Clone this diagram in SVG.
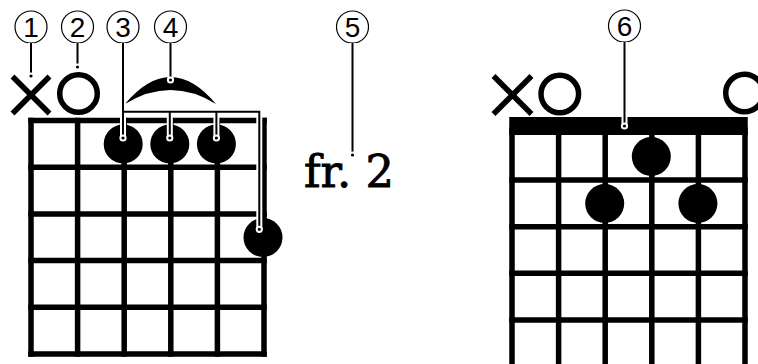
<svg xmlns="http://www.w3.org/2000/svg" width="758" height="364" viewBox="0 0 758 364">
<style>
.grid{stroke:#000;stroke-width:5.5;stroke-linecap:square;fill:none}
.dot{fill:#000}
.mark{stroke:#000;stroke-width:5.5;fill:none}
.ring{stroke:#000;stroke-width:1.2;fill:#fff}
.num{font-family:"Liberation Sans",Arial,sans-serif;font-size:28px;fill:#000;text-anchor:middle}
.fr{font-family:"DejaVu Serif","Liberation Serif",serif;font-size:45px;fill:#000;stroke:#000;stroke-width:0.9}
.halo{stroke:#fff;stroke-width:6;fill:none}
.lead{stroke:#000;stroke-width:2;fill:none}
.end{fill:#000;stroke:#fff;stroke-width:2}
</style>
<rect width="758" height="364" fill="#fff"/>
<g id="chord-left">
  <path class="grid" d="M31,120.5V354M77.6,120.5V354M124.2,120.5V354M170.8,120.5V354M217.4,120.5V354M264,120.5V354"/>
  <path class="grid" d="M31,120.5H264M31,167.2H264M31,213.9H264M31,260.6H264M31,307.3H264M31,354H264"/>
  <circle class="dot" cx="123.2" cy="144" r="19.5"/>
  <circle class="dot" cx="169.8" cy="144" r="19.5"/>
  <circle class="dot" cx="216.4" cy="144" r="19.5"/>
  <circle class="dot" cx="263" cy="237.5" r="19.5"/>
  <path class="mark" d="M12.5,76.5L49.5,113.5M49.5,76.5L12.5,113.5"/>
  <circle class="mark" cx="78.5" cy="93.5" r="18.8"/>
  <path id="slur" class="dot" d="M125,104Q170.5,50 216,104Q170.5,76 125,104Z"/>
</g>
<g id="fret-label">
  <text class="fr" x="304" y="187" textLength="90" lengthAdjust="spacingAndGlyphs">fr. 2</text>
</g>
<g id="chord-right">
  <rect x="509.25" y="117" width="238.5" height="18" fill="#000"/>
  <path class="grid" d="M512,130V370M558.6,130V370M605.2,130V370M651.8,130V370M698.4,130V370M745,130V370"/>
  <path class="grid" d="M512,180H745M512,226.7H745M512,273.3H745M512,320H745"/>
  <circle class="dot" cx="651.3" cy="156.5" r="19.5"/>
  <circle class="dot" cx="604.7" cy="203.5" r="19.5"/>
  <circle class="dot" cx="697.9" cy="203.5" r="19.5"/>
  <path class="mark" d="M493.5,76L531.5,114M531.5,76L493.5,114"/>
  <circle class="mark" cx="559.8" cy="94" r="18.8"/>
  <circle class="mark" cx="744.5" cy="93" r="18.8"/>
</g>
<g id="labels">
  <g id="label-1"><circle class="ring" cx="31" cy="27" r="16"/><text class="num" x="31" y="37">1</text></g>
  <g id="label-2"><circle class="ring" cx="77.5" cy="27" r="16"/><text class="num" x="77.5" y="37">2</text></g>
  <g id="label-3"><circle class="ring" cx="123" cy="27" r="16"/><text class="num" x="123" y="37">3</text></g>
  <g id="label-4"><circle class="ring" cx="170.5" cy="27" r="16"/><text class="num" x="170.5" y="37">4</text></g>
  <g id="label-5"><circle class="ring" cx="352.5" cy="27" r="16"/><text class="num" x="352.5" y="37">5</text></g>
  <g id="label-6"><circle class="ring" cx="624.5" cy="26" r="16"/><text class="num" x="624.5" y="36">6</text></g>
</g>
<g id="connectors">
  <path class="halo" d="M31,43V76M77.5,43V67M123,43V138M123,111.7H259.3V229.3M169.8,111.7V138M216.4,111.7V138M170.5,43V80M352.5,43V155M624.5,42V126"/>
  <path class="lead" d="M31,43V76M77.5,43V67M123,43V138M123,111.7H259.3V229.3M169.8,111.7V138M216.4,111.7V138M170.5,43V80M352.5,43V155M624.5,42V126"/>
  <circle class="end" cx="31" cy="76" r="2.6"/>
  <circle class="end" cx="77.5" cy="67" r="2.6"/>
  <circle class="end" cx="123" cy="138" r="2.6"/>
  <circle class="end" cx="169.8" cy="138" r="2.6"/>
  <circle class="end" cx="216.4" cy="138" r="2.6"/>
  <circle class="end" cx="259.3" cy="229.3" r="2.6"/>
  <circle class="end" cx="170.5" cy="80" r="2.6"/>
  <circle class="end" cx="352.5" cy="155" r="2.6"/>
  <circle class="end" cx="624.5" cy="126" r="2.6"/>
</g>
</svg>
